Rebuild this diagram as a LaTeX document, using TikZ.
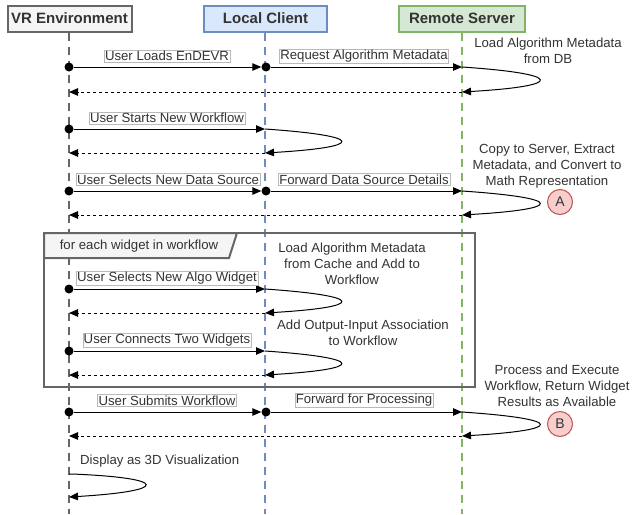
\documentclass[tikz,border=0pt]{standalone}
\usepackage{fontspec}
\setmainfont{Liberation Sans}
\usetikzlibrary{arrows.meta}
\definecolor{txt}{HTML}{333333}
\definecolor{grayln}{HTML}{666666}
\definecolor{grayfill}{HTML}{F5F5F5}
\definecolor{blueln}{HTML}{6C8EBF}
\definecolor{bluefill}{HTML}{DAE8FC}
\definecolor{greenln}{HTML}{82B366}
\definecolor{greenfill}{HTML}{D5E8D4}
\definecolor{redln}{HTML}{B85450}
\definecolor{redfill}{HTML}{F8CECC}
\begin{document}
\begin{tikzpicture}[x=1pt,y=-1pt,
  hdr/.style={draw, line width=2pt, minimum width=123pt, minimum height=26pt, inner sep=0pt,
    font=\bfseries\fontsize{15}{17}\selectfont, text=txt},
  lifeline/.style={line width=2pt, dash pattern=on 8pt off 6pt},
  msg/.style={-{Triangle[length=9pt,width=7.5pt]}, line width=1pt, black},
  ret/.style={msg, dash pattern=on 3pt off 3pt},
  dotnode/.style={circle, fill=black, inner sep=0pt, minimum size=9pt},
  lbl/.style={draw=gray!55, fill=white, inner sep=1pt, font=\fontsize{13.2}{15}\selectfont, text=txt},
  note/.style={align=center, font=\fontsize{13.2}{16}\selectfont, text=txt, inner sep=0pt},
  badge/.style={circle, draw=redln, fill=redfill, line width=1pt, minimum size=25pt, inner sep=0pt,
    font=\fontsize{14}{16}\selectfont, text=txt}
]
\useasboundingbox (0,0) rectangle (634,514);

% headers
\node[hdr, draw=grayln, fill=grayfill, minimum width=124pt] (vr) at (69.5,18.5) {VR Environment};
\node[hdr, draw=blueln, fill=bluefill] (lc) at (265.5,18.5) {Local Client};
\node[hdr, draw=greenln, fill=greenfill, minimum width=126pt] (rs) at (462,18.5) {Remote Server};

% lifelines
\coordinate (vrend) at (69,514);
\coordinate (lcend) at (265,514);
\coordinate (rsend) at (462,514);
\draw[lifeline, grayln] (vr.south -| vrend) -- (vrend);
\draw[lifeline, blueln] (lc.south -| lcend) -- (lcend);
\draw[lifeline, greenln] (rs.south -| rsend) -- (rsend);

% loop frame
\draw[grayln, line width=2pt] (44,233) rectangle (475,387);
\draw[grayln, line width=2pt, fill=grayfill] (44,233) -- (237,233) -- (229,258) -- (44,258) -- cycle;
\node[note] (looplbl) at (139,246) {for each widget in workflow};

% ---- message 1
\node[dotnode] (vd1) at (69,67) {};
\node[dotnode] (cd1) at (266,67) {};
\coordinate (s1) at (462,67);
\coordinate (s1r) at (462,92);
\coordinate (v1r) at (69,92);
\draw[msg] (vd1) -- (cd1);
\draw[msg] (cd1) -- (s1);
\draw[msg] (s1) .. controls (565,74) and (565,86) .. (s1r);
\draw[ret] (s1r) -- (v1r);
\node[lbl] (l1a) at (167,56) {User Loads EnDEVR};
\node[lbl] (l1b) at (364,56) {Request Algorithm Metadata};
\node[note] (n1) at (548,50.5) {Load Algorithm Metadata\\from DB};

% ---- message 2
\node[dotnode] (vd2) at (69,129) {};
\coordinate (c2) at (265,129);
\coordinate (c2r) at (265,153);
\coordinate (v2r) at (69,153);
\draw[msg] (vd2) -- (c2);
\draw[msg] (c2) .. controls (366,136) and (366,147) .. (c2r);
\draw[ret] (c2r) -- (v2r);
\node[lbl] (l2) at (167,118) {User Starts New Workflow};

% ---- message 3
\node[dotnode] (vd3) at (69,191) {};
\node[dotnode] (cd3) at (266,191) {};
\coordinate (s3) at (462,191);
\coordinate (s3r) at (462,215);
\coordinate (v3r) at (69,215);
\draw[msg] (vd3) -- (cd3);
\draw[msg] (cd3) -- (s3);
\draw[msg] (s3) .. controls (565,198) and (565,209) .. (s3r);
\draw[ret] (s3r) -- (v3r);
\node[lbl] (l3a) at (168,179.5) {User Selects New Data Source};
\node[lbl] (l3b) at (364,179.5) {Forward Data Source Details};
\node[note] (n3) at (547,166) {Copy to Server, Extract\\Metadata, and Convert to\\Math Representation};
\node[badge] (ba) at (560,202) {A};

% ---- message 4
\node[dotnode] (vd4) at (69,289) {};
\coordinate (c4) at (265,289);
\coordinate (c4r) at (265,313);
\coordinate (v4r) at (69,313);
\draw[msg] (vd4) -- (c4);
\draw[msg] (c4) .. controls (366,296) and (366,307) .. (c4r);
\draw[ret] (c4r) -- (v4r);
\node[lbl] (l4) at (167,278) {User Selects New Algo Widget};
\node[note] (n4) at (352,264) {Load Algorithm Metadata\\from Cache and Add to\\Workflow};

% ---- message 5
\node[dotnode] (vd5) at (69,351) {};
\coordinate (c5) at (265,351);
\coordinate (c5r) at (265,375);
\coordinate (v5r) at (69,375);
\draw[msg] (vd5) -- (c5);
\draw[msg] (c5) .. controls (366,358) and (366,369) .. (c5r);
\draw[ret] (c5r) -- (v5r);
\node[lbl] (l5) at (167,340) {User Connects Two Widgets};
\node[note] (n5) at (363,333) {Add Output-Input Association\\to Workflow};

% ---- message 6
\node[dotnode] (vd6) at (69,412) {};
\node[dotnode] (cd6) at (266,412) {};
\coordinate (s6) at (462,412);
\coordinate (s6r) at (462,436);
\coordinate (v6r) at (69,436);
\draw[msg] (vd6) -- (cd6);
\draw[msg] (cd6) -- (s6);
\draw[msg] (s6) .. controls (565,419) and (565,430) .. (s6r);
\draw[ret] (s6r) -- (v6r);
\node[lbl] (l6a) at (167,400.5) {User Submits Workflow};
\node[lbl] (l6b) at (364,400.5) {Forward for Processing};
\node[note] (n6) at (557,386) {Process and Execute\\Workflow, Return Widget\\Results as Available};
\node[badge] (bb) at (560,424) {B};

% ---- VR self loop
\coordinate (v7) at (69,474);
\coordinate (v7r) at (69,497);
\draw[msg] (v7) -- (72,474) .. controls (170,478) and (170,491) .. (v7r);
\node[note, anchor=west] (n7) at (80,461) {Display as 3D Visualization};
\end{tikzpicture}
\end{document}
